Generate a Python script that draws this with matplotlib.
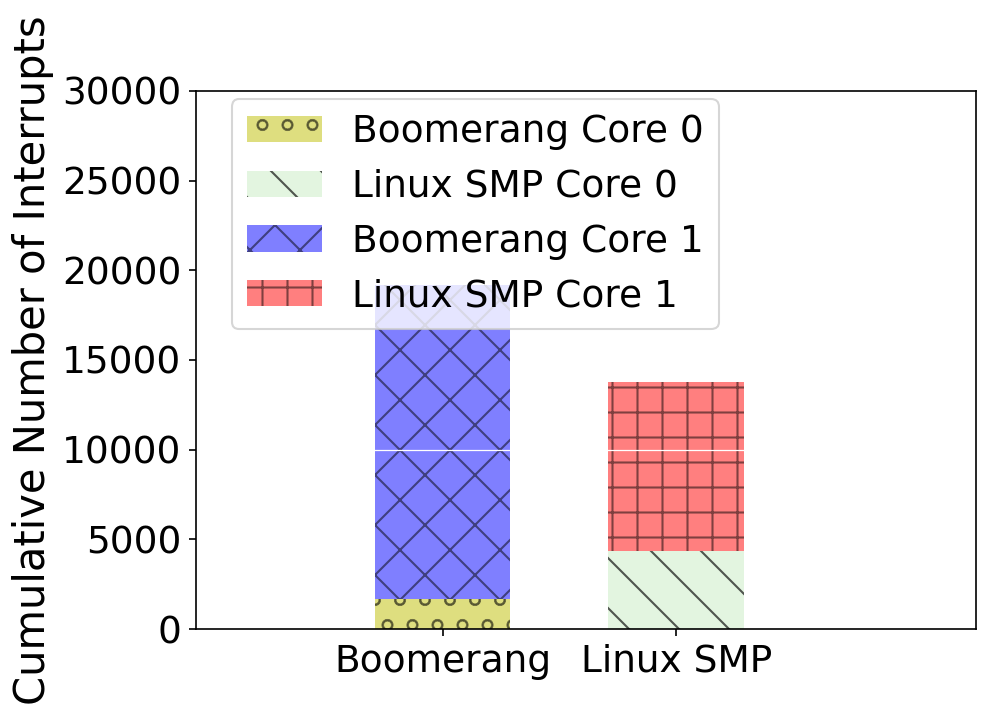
import matplotlib
matplotlib.use("Agg")
import matplotlib.pyplot as plt
import numpy as np

systems = ["Boomerang", "Linux SMP"]
core0 = [1650, 4350]
core1 = [17550, 9400]
series_labels = ["Boomerang Core 0", "Linux SMP Core 0", "Boomerang Core 1", "Linux SMP Core 1"]
yticks = [0, 5000, 10000, 15000, 20000, 25000, 30000]

fig = plt.figure(figsize=(999 / 150, 722 / 150), dpi=150)
ax = fig.add_axes([196 / 999, 1 - 629 / 722, 780 / 999, 538 / 722])

x = np.arange(len(systems))
w = 0.58
h1 = ax.bar(x[0], core0[0], w, color=(0.75, 0.75, 0.0, 0.5), hatch="o", edgecolor=(0, 0, 0, 0.5), linewidth=0, label=series_labels[0])
h2 = ax.bar(x[1], core0[1], w, color="#e3f5e0", hatch="\\", edgecolor=(0, 0, 0, 0.65), linewidth=0, label=series_labels[1])
h3 = ax.bar(x[0], core1[0], w, bottom=core0[0], color=(0, 0, 1, 0.5), hatch="x", edgecolor=(0, 0, 0, 0.5), linewidth=0, label=series_labels[2])
h4 = ax.bar(x[1], core1[1], w, bottom=core0[1], color=(1, 0, 0, 0.5), hatch="+", edgecolor=(0, 0, 0, 0.5), linewidth=0, label=series_labels[3])
ax.axhline(10000, xmin=0, xmax=1, color="white", linewidth=0.6, zorder=2.5)

ax.set_xlim(-1.056, 2.284)
ax.set_ylim(0, 30000)
ax.set_yticks(yticks)
ax.set_xticks(x)
ax.set_xticklabels(systems)
ax.tick_params(labelsize=18)
ax.set_ylabel("Cumulative Number of Interrupts", fontsize=20)

leg = ax.legend(handles=[h1, h2, h3, h4], loc="upper left", fontsize=18,
                bbox_to_anchor=(0.046, 0.985), borderaxespad=0)

fig.savefig("out.png", dpi=150)
